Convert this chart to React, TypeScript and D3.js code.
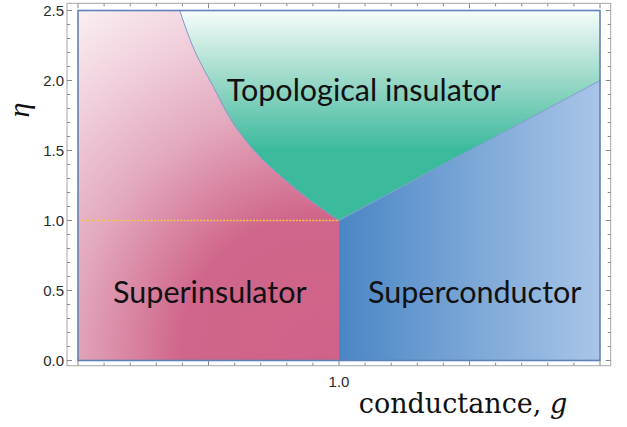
import React from "react";
import * as d3 from "d3";

// ---- data ----
const boundaryG = [0.39, 0.45, 0.52, 0.6, 0.7, 0.8, 0.9, 1.0];
const boundaryEta = [2.5, 2.2, 1.95, 1.68, 1.45, 1.28, 1.13, 1.0];
const diagonalG = [1.0, 2.0];
const diagonalEta = [1.0, 2.0];
const criticalG = 1.0;
const criticalEta = 1.0;
const gDomain = [0, 2];
const etaDomain = [0, 2.5];
const yTickValues = [0, 0.5, 1.0, 1.5, 2.0, 2.5];
const yTickLabels = ["0.0", "0.5", "1.0", "1.5", "2.0", "2.5"];
const xTickValues = [1.0];
const xTickLabels = ["1.0"];
const regionNames = ["Topological insulator", "Superinsulator", "Superconductor"];
const regionG = [1.095, 0.505, 1.52];
const regionEta = [1.93, 0.485, 0.485];

const W = 627;
const H = 427;

export default function App() {
  const x = d3.scaleLinear().domain(gDomain).range([78, 600]);
  const y = d3.scaleLinear().domain(etaDomain).range([360.5, 10.5]);
  const fx0 = 67, fx1 = 610.7, fy0 = 3.3, fy1 = 365.7;

  const curvePts: [number, number][] = boundaryG.map((g, i) => [x(g), y(boundaryEta[i])]);
  const curveLine = d3.line().curve(d3.curveMonotoneY);
  const curveD = curveLine(curvePts) as string;

  const g0 = gDomain[0], g1 = gDomain[1], e0 = etaDomain[0], e1 = etaDomain[1];
  const diag = diagonalG.map((g, i) => [x(g), y(diagonalEta[i])]);

  const siPath =
    `M${x(g0)},${y(e0)} L${x(g0)},${y(e1)} L${curvePts[0][0]},${curvePts[0][1]} ` +
    curveD.replace(/^M[^CL]*/, "") +
    ` L${x(criticalG)},${y(e0)} Z`;
  const tiPath =
    curveD + ` L${diag[1][0]},${diag[1][1]} L${x(g1)},${y(e1)} Z`;
  const scPath =
    `M${x(criticalG)},${y(e0)} L${x(criticalG)},${y(criticalEta)} L${diag[1][0]},${diag[1][1]} L${x(g1)},${y(e0)} Z`;

  // ticks
  const minor = d3.range(0, 21).map((i) => i / 10);
  const minorY = d3.range(0, 26).map((i) => i / 10);
  const isMajor = (v: number) => Math.abs(v * 2 - Math.round(v * 2)) < 1e-6;
  const tickColor = "#8a8a8a";

  return (
    <svg width={W} height={H} style={{ position: "absolute", left: 0, top: 0, background: "#fff" }}>
      <defs>
        <radialGradient id="siGrad" gradientUnits="userSpaceOnUse" cx={x(0.92)} cy={y(0.05)} r={430}>
          <stop offset="0" stopColor="#cf6288" />
          <stop offset="0.32" stopColor="#d0668b" />
          <stop offset="0.46" stopColor="#da8aa6" />
          <stop offset="0.58" stopColor="#e3a9be" />
          <stop offset="0.78" stopColor="#f0cedb" />
          <stop offset="1" stopColor="#fcf4f7" />
        </radialGradient>
        <linearGradient id="tiGrad" gradientUnits="userSpaceOnUse" x1={0} y1={y(2.5)} x2={0} y2={y(1.5)}>
          <stop offset="0" stopColor="#f6fcfa" />
          <stop offset="0.5" stopColor="#9ad8c8" />
          <stop offset="1" stopColor="#3bba9c" />
        </linearGradient>
        <linearGradient id="scGrad" gradientUnits="userSpaceOnUse" x1={x(1)} y1={0} x2={x(2)} y2={0}>
          <stop offset="0" stopColor="#4a86c6" />
          <stop offset="0.5" stopColor="#7aa6d6" />
          <stop offset="1" stopColor="#a9c5e8" />
        </linearGradient>
      </defs>

      {/* regions */}
      <path d={siPath} fill="url(#siGrad)" />
      <path d={tiPath} fill="url(#tiGrad)" />
      <path d={scPath} fill="url(#scGrad)" />

      {/* boundaries */}
      <path d={curveD} fill="none" stroke="#7f98c6" strokeWidth={1} />
      <line x1={diag[0][0]} y1={diag[0][1]} x2={diag[1][0]} y2={diag[1][1]} stroke="#7f9cd0" strokeWidth={1} />
      <line x1={x(g0)} y1={y(criticalEta)} x2={x(criticalG)} y2={y(criticalEta)} stroke="#f2c64a" strokeWidth={1.3} strokeDasharray="2,1.3" />

      {/* plot border */}
      <rect x={x(g0)} y={y(e1)} width={x(g1) - x(g0)} height={y(e0) - y(e1)} fill="none" stroke="#5f82b8" strokeWidth={1.6} />

      {/* frame */}
      <rect x={fx0} y={fy0} width={fx1 - fx0} height={fy1 - fy0} fill="none" stroke="#a6a6a6" strokeWidth={1} />
      {minor.map((v, i) => {
        const len = isMajor(v) ? 5 : 3;
        return (
          <g key={"xt" + i} stroke={tickColor} strokeWidth={1}>
            <line x1={x(v)} x2={x(v)} y1={fy1} y2={fy1 - len} />
            <line x1={x(v)} x2={x(v)} y1={fy0} y2={fy0 + len} />
          </g>
        );
      })}
      {minorY.map((v, i) => {
        const len = isMajor(v) ? 5 : 3;
        return (
          <g key={"yt" + i} stroke={tickColor} strokeWidth={1}>
            <line x1={fx0} x2={fx0 + len} y1={y(v)} y2={y(v)} />
            <line x1={fx1} x2={fx1 - len} y1={y(v)} y2={y(v)} />
          </g>
        );
      })}
      {yTickValues.map((v, i) => (
        <text key={"yl" + i} x={fx0 - 3} y={y(v)} dy="0.36em" textAnchor="end"
          fontFamily="Liberation Sans, Arial, sans-serif" fontSize={15} fill="#2a2a2a">
          {yTickLabels[i]}
        </text>
      ))}
      {xTickValues.map((v, i) => (
        <text key={"xl" + i} x={x(v)} y={fy1 + 21} textAnchor="middle"
          fontFamily="Liberation Sans, Arial, sans-serif" fontSize={15} fill="#2a2a2a">
          {xTickLabels[i]}
        </text>
      ))}

      {/* axis labels */}
      <text transform={`translate(29,110) rotate(-90)`} textAnchor="middle"
        fontFamily="Liberation Serif, serif" fontStyle="italic" fontSize={30} fill="#111">
        η
      </text>
      <text x={463} y={413} textAnchor="middle" fontFamily="DejaVu Serif, serif" fontSize={27} fill="#111">
        conductance, <tspan fontStyle="italic">g</tspan>
      </text>

      {/* region labels */}
      {regionNames.map((name, i) => (
        <text key={"rn" + i} x={x(regionG[i])} y={y(regionEta[i])} dy="0.35em" textAnchor="middle"
          fontFamily="Lato, Open Sans, sans-serif" fontSize={30.5} fill="#111">
          {name}
        </text>
      ))}
    </svg>
  );
}
